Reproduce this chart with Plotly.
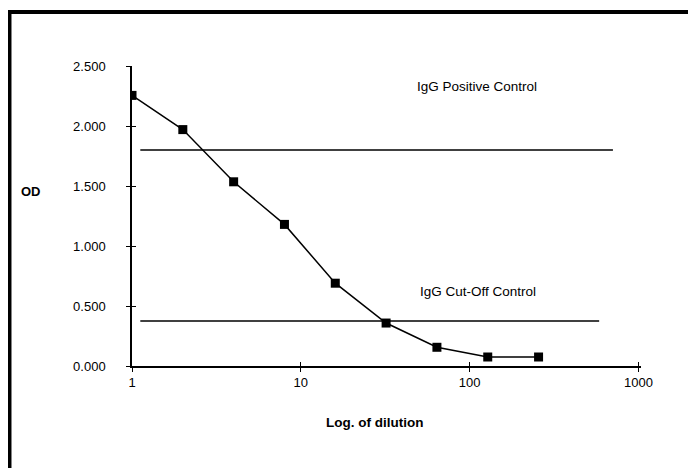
import plotly.graph_objects as go

# ---- data ----
dilution = [1, 2, 4, 8, 16, 32, 64, 128, 256]
od = [2.255, 1.970, 1.535, 1.180, 0.690, 0.358, 0.156, 0.075, 0.075]

positive_control_od = 1.80
positive_control_x = [1.12, 706]
cutoff_control_od = 0.375
cutoff_control_x = [1.12, 585]

x_tickvals = [1, 10, 100, 1000]
x_ticktext = ["1", "10", "100", "1000"]
y_tickvals = [0, 0.5, 1.0, 1.5, 2.0, 2.5]
y_ticktext = ["0.000", "0.500", "1.000", "1.500", "2.000", "2.500"]

FONT = "Liberation Sans, Arial, sans-serif"

fig = go.Figure()

# reference lines
fig.add_trace(go.Scatter(x=positive_control_x, y=[positive_control_od] * 2,
                         mode="lines", line=dict(color="black", width=1.4),
                         hoverinfo="skip", showlegend=False))
fig.add_trace(go.Scatter(x=cutoff_control_x, y=[cutoff_control_od] * 2,
                         mode="lines", line=dict(color="black", width=1.4),
                         hoverinfo="skip", showlegend=False))

# titration curve
fig.add_trace(go.Scatter(x=dilution, y=od, mode="lines+markers",
                         line=dict(color="black", width=1.5),
                         marker=dict(symbol="square", size=9, color="black"),
                         showlegend=False))

# invisible trace to draw the inner half of the crossing ticks
fig.add_trace(go.Scatter(x=dilution, y=od, xaxis="x2", yaxis="y2",
                         mode="markers", marker=dict(opacity=0),
                         hoverinfo="skip", showlegend=False))

axis_common = dict(showgrid=False, zeroline=False, linecolor="black",
                   tickcolor="black", tickwidth=1.2, ticklen=4)

ann_common = dict(xref="paper", yref="paper", showarrow=False,
                  xanchor="center", yanchor="middle")

fig.update_layout(
    width=688, height=460,
    margin=dict(l=124, r=55, t=58, b=102),
    paper_bgcolor="white", plot_bgcolor="white",
    font=dict(family=FONT, size=13, color="black"),
    xaxis=dict(type="log", range=[0, 3.015], tickvals=x_tickvals,
               ticktext=x_ticktext, ticks="outside", showline=True,
               linewidth=1.5, tickfont=dict(size=13), **axis_common),
    yaxis=dict(range=[0, 2.5], tickvals=y_tickvals, ticktext=y_ticktext,
               ticks="outside", showline=True, linewidth=1.5,
               ticklabelstandoff=18, tickfont=dict(size=13), **axis_common),
    xaxis2=dict(type="log", range=[0, 3.015], overlaying="x", anchor="y2",
                tickvals=x_tickvals, ticks="inside", showticklabels=False,
                showline=False, **axis_common),
    yaxis2=dict(range=[0, 2.5], overlaying="y", anchor="x2",
                tickvals=y_tickvals, ticks="inside", showticklabels=False,
                showline=False, **axis_common),
    annotations=[
        dict(text="IgG Positive Control", x=0.678, y=0.933,
             font=dict(size=13.5), **ann_common),
        dict(text="IgG Cut-Off Control", x=0.680, y=0.25,
             font=dict(size=13.5), **ann_common),
        dict(text="<b>OD</b>", x=-0.198, y=0.583,
             font=dict(size=13), **ann_common),
        dict(text="<b>Log. of dilution</b>", x=0.477, y=-0.187,
             font=dict(size=13.5), **ann_common),
    ],
    shapes=[
        # scanned page frame
        dict(type="line", xref="paper", yref="paper", x0=-0.2407, x1=1.12,
             y0=1.18, y1=1.18, line=dict(color="black", width=4)),
        dict(type="line", xref="paper", yref="paper", x0=-0.2407, x1=-0.2407,
             y0=1.187, y1=-0.36, line=dict(color="black", width=4)),
    ],
)

fig.write_html("out.html")
